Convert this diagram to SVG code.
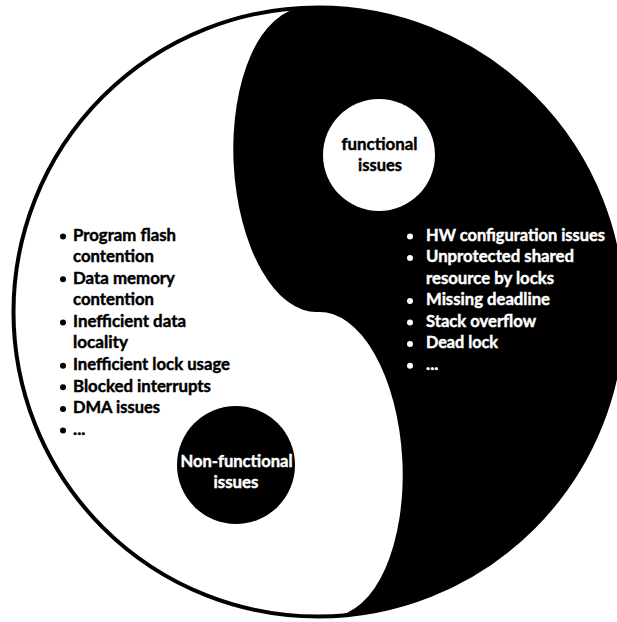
<svg xmlns="http://www.w3.org/2000/svg" width="617" height="622" viewBox="0 0 617 622">
  <style>
    .t { font-family: Lato, "Open Sans", "Liberation Sans", sans-serif; font-weight: bold; font-size: 17.5px; stroke-width: 0.45px; }
    .dark { fill: #000; stroke: #000; }
    .light { fill: #fff; stroke: #fff; }
    .mid { text-anchor: middle; }
    .shape { stroke: none; }
  </style>
  <defs>
    <circle id="dot" r="3" class="shape"/>
  </defs>
  <rect width="617" height="622" fill="#fff"/>

  <!-- yang half: right side of the disc bounded by the S curve -->
  <g id="yang">
    <path fill="#000" transform="rotate(-2.8 318 312)"
          d="M 318 7.5 A 77 152.25 0 0 0 318 312 A 77 152.25 0 0 1 318 616.5 A 304.5 304.5 0 0 0 318 7.5 Z"/>
  </g>

  <!-- outer rim -->
  <g id="rim">
    <circle cx="318" cy="312" r="304.5" fill="none" stroke="#000" stroke-width="4"/>
  </g>

  <!-- eye in the dark half -->
  <g id="functional-issues">
    <circle cx="379" cy="155" r="56" fill="#fff"/>
    <text class="t dark mid" x="379.5" y="150" textLength="76" lengthAdjust="spacingAndGlyphs">functional</text>
    <text class="t dark mid" x="380" y="171" textLength="44" lengthAdjust="spacingAndGlyphs">issues</text>
  </g>

  <!-- eye in the light half -->
  <g id="non-functional-issues">
    <circle cx="236" cy="465" r="59" fill="#000"/>
    <text class="t light mid" x="236.5" y="467" textLength="112" lengthAdjust="spacingAndGlyphs">Non-functional</text>
    <text class="t light mid" x="236" y="488" textLength="45" lengthAdjust="spacingAndGlyphs">issues</text>
  </g>

  <!-- list of non-functional issues -->
  <g id="non-functional-list" fill="#000">
    <use href="#dot" x="63" y="236.5"/>
    <text class="t dark" x="73" y="240.7" textLength="103" lengthAdjust="spacingAndGlyphs">Program flash</text>
    <text class="t dark" x="73" y="262.3" textLength="81" lengthAdjust="spacingAndGlyphs">contention</text>
    <use href="#dot" x="63" y="279.3"/>
    <text class="t dark" x="73" y="283.5" textLength="102" lengthAdjust="spacingAndGlyphs">Data memory</text>
    <text class="t dark" x="73" y="305.1" textLength="81" lengthAdjust="spacingAndGlyphs">contention</text>
    <use href="#dot" x="63" y="322.5"/>
    <text class="t dark" x="73" y="326.7" textLength="113" lengthAdjust="spacingAndGlyphs">Inefficient data</text>
    <text class="t dark" x="73" y="348.3" textLength="55" lengthAdjust="spacingAndGlyphs">locality</text>
    <use href="#dot" x="63" y="365.7"/>
    <text class="t dark" x="73" y="369.9" textLength="157" lengthAdjust="spacingAndGlyphs">Inefficient lock usage</text>
    <use href="#dot" x="63" y="387.3"/>
    <text class="t dark" x="73" y="391.5" textLength="138" lengthAdjust="spacingAndGlyphs">Blocked interrupts</text>
    <use href="#dot" x="63" y="408.9"/>
    <text class="t dark" x="73" y="413.1" textLength="87" lengthAdjust="spacingAndGlyphs">DMA issues</text>
    <use href="#dot" x="63" y="430.5"/>
    <text class="t dark" x="73" y="434.7">...</text>
  </g>

  <!-- list of functional issues -->
  <g id="functional-list" fill="#fff">
    <use href="#dot" x="410" y="236.5"/>
    <text class="t light" x="426" y="240.7" textLength="179" lengthAdjust="spacingAndGlyphs">HW configuration issues</text>
    <use href="#dot" x="410" y="258.1"/>
    <text class="t light" x="426" y="262.3" textLength="148" lengthAdjust="spacingAndGlyphs">Unprotected shared</text>
    <text class="t light" x="426" y="283.5" textLength="128" lengthAdjust="spacingAndGlyphs">resource by locks</text>
    <use href="#dot" x="410" y="301.1"/>
    <text class="t light" x="426" y="305.3" textLength="124" lengthAdjust="spacingAndGlyphs">Missing deadline</text>
    <use href="#dot" x="410" y="322.5"/>
    <text class="t light" x="426" y="326.7" textLength="110" lengthAdjust="spacingAndGlyphs">Stack overflow</text>
    <use href="#dot" x="410" y="344.1"/>
    <text class="t light" x="426" y="348.3" textLength="72" lengthAdjust="spacingAndGlyphs">Dead lock</text>
    <use href="#dot" x="410" y="365.7"/>
    <text class="t light" x="426" y="369.9">...</text>
  </g>
</svg>
